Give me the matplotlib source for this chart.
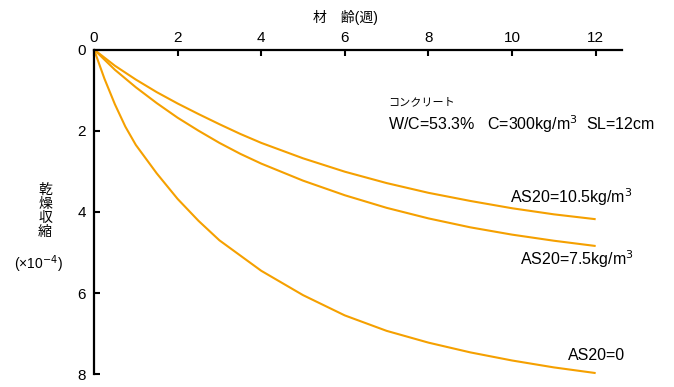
import matplotlib
matplotlib.use("Agg")
import matplotlib.pyplot as plt

plt.rcParams['font.family'] = ['Liberation Sans', 'Noto Sans CJK JP', 'DejaVu Sans']

# Data (age in weeks, drying shrinkage x1e-4)
age_0 = [0, 0.25, 0.5, 0.75, 1.0, 1.5, 2.0, 2.5, 3.0, 4.0, 5.0, 6.0, 7.0, 8.0, 9.0, 10.0, 11.0, 12.0]
shr_0 = [0, 0.72, 1.35, 1.90, 2.35, 3.05, 3.68, 4.22, 4.70, 5.45, 6.05, 6.55, 6.93, 7.22, 7.46, 7.66, 7.83, 7.97]

age_75 = [0, 0.5, 1.0, 1.5, 2.0, 2.5, 3.0, 3.5, 4.0, 5.0, 6.0, 7.0, 8.0, 9.0, 10.0, 11.0, 12.0]
shr_75 = [0, 0.50, 0.93, 1.32, 1.68, 2.00, 2.30, 2.57, 2.81, 3.23, 3.59, 3.90, 4.16, 4.38, 4.56, 4.71, 4.84]

age_105 = [0, 0.5, 1.0, 1.5, 2.0, 2.5, 3.0, 3.5, 4.0, 5.0, 6.0, 7.0, 8.0, 9.0, 10.0, 11.0, 12.0]
shr_105 = [0, 0.40, 0.74, 1.05, 1.33, 1.59, 1.84, 2.08, 2.30, 2.68, 3.01, 3.29, 3.53, 3.73, 3.91, 4.06, 4.18]

x_ticks = [0, 2, 4, 6, 8, 10, 12]
y_ticks = [0, 2, 4, 6, 8]

orange = '#F5A000'

fig = plt.figure(figsize=(6.74, 3.87), dpi=100)
ax = fig.add_axes([94/674, 1-374.3/387, (622-94)/674, (374.3-49.5)/387])

for a, s in [(age_0, shr_0), (age_75, shr_75), (age_105, shr_105)]:
    ax.plot(a, s, color=orange, lw=1.5, solid_capstyle='butt',
            solid_joinstyle='round', clip_on=False)

ax.set_xlim(0, 12.63)
ax.set_ylim(8, 0)
ax.xaxis.tick_top()
ax.set_xticks(x_ticks)
ax.set_yticks(y_ticks)
ax.tick_params(axis='both', direction='in', length=4, width=1.5, labelsize=11, color='black')
ax.tick_params(axis='x', pad=3)
ax.tick_params(axis='y', pad=6)
for sp in ['right', 'bottom']:
    ax.spines[sp].set_visible(False)
for sp in ['left', 'top']:
    ax.spines[sp].set_linewidth(1.6)

fig.text(345/674, 1-17/387, '材　齢(週)', ha='center', va='center', fontsize=10)
fig.text(45/674, 1-211/387, '乾\n燥\n収\n縮', ha='center', va='center', fontsize=10, linespacing=1.0)
fig.text(38/674, 1-264/387, '(×10$^{-4}$)', ha='center', va='center', fontsize=10)

fig.text(388/674, 1-102/387, 'コンクリート', ha='left', va='center', fontsize=8)
fig.text(388/674, 1-124/387, 'W/C=53.3%   C=300kg/m$^3$  SL=12cm', ha='left', va='center', fontsize=11.5)

fig.text(510/674, 1-197/387, 'AS20=10.5kg/m$^3$', ha='left', va='center', fontsize=11.5)
fig.text(520/674, 1-259/387, 'AS20=7.5kg/m$^3$', ha='left', va='center', fontsize=11.5)
fig.text(568/674, 1-355/387, 'AS20=0', ha='left', va='center', fontsize=11.5)

fig.savefig('out.png', dpi=100)
